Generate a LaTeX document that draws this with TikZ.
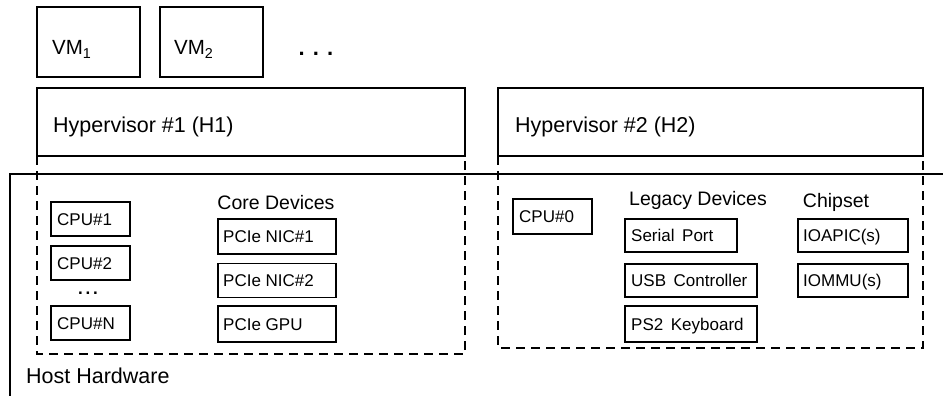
\documentclass[tikz,border=0pt]{standalone}
\usepackage{fontspec}
\setmainfont{Liberation Sans}
\begin{document}
\begin{tikzpicture}[x=1pt,y=-1pt,
  bigbox/.style={draw, line width=1.6pt, inner sep=0pt, outer sep=0pt},
  devbox/.style={draw, line width=1.2pt, inner sep=0pt, outer sep=0pt, minimum width=#1},
  devbox/.default=79pt,
  biglabel/.style={font=\fontsize{21.5}{24}\selectfont, inner sep=0pt, anchor=base west},
  vmlabel/.style={font=\fontsize{20.5}{24}\selectfont, inner sep=0pt, anchor=base west},
  hdrlabel/.style={font=\fontsize{19.5}{22}\selectfont, inner sep=0pt, anchor=base},
  devlabel/.style={font=\fontsize{17}{19}\selectfont, inner sep=0pt, anchor=base west},
  region/.style={line width=1.8pt, dash pattern=on 9pt off 6pt},
  hostline/.style={line width=1.6pt}]
\useasboundingbox (0,0) rectangle (943,396);
% VMs
\node[bigbox, minimum width=103pt, minimum height=70pt] (vm1) at (88.5,42) {};
\node[vmlabel] (vm1t) at (52,55) {VM\textsubscript{1}};
\node[bigbox, minimum width=103pt, minimum height=70pt] (vm2) at (211.5,42) {};
\node[vmlabel] (vm2t) at (174,55) {VM\textsubscript{2}};
\node[hdrlabel, font=\fontsize{22}{24}\selectfont\bfseries] (vmdots) at (316,56) {. . .};
% Hypervisors
\node[bigbox, minimum width=428pt, minimum height=68pt] (h1) at (251,122) {};
\node[biglabel] (h1t) at (53,132) {Hypervisor \#1 (H1)};
\node[bigbox, minimum width=425pt, minimum height=68pt] (h2) at (710.5,122) {};
\node[biglabel] (h2t) at (515,132) {Hypervisor \#2 (H2)};
% host hardware line
\coordinate (hr) at (943,174);
\coordinate (hl) at (10,174);
\coordinate (hb) at (10,396);
\draw[hostline] (hr) -- (hl) -- (hb);
\node[biglabel] (hostt) at (26,383) {Host Hardware};
% dashed regions
\draw[region] (h1.south west) -- (h1.south west |- 0,354) -- (h1.south east |- 0,354) -- (h1.south east);
\draw[region] (h2.south west) -- (h2.south west |- 0,348) -- (h2.south east |- 0,348) -- (h2.south east);
% H1 devices
\node[devbox, minimum height=34pt] (cpu1) at (90.5,219) {};
\node[devlabel] at (57,225) {CPU\#1};
\node[devbox, minimum height=34pt] (cpu2) at (90.5,263) {};
\node[devlabel] at (57,269) {CPU\#2};
\node[hdrlabel, font=\fontsize{17}{19}\selectfont\bfseries] (cpudots) at (88,294) {.\,.\,.};
\node[devbox, minimum height=34pt] (cpun) at (90.5,323) {};
\node[devlabel] at (57,329) {CPU\#N};
\node[hdrlabel] (coret) at (276,209) {Core Devices};
\node[devbox=118pt, minimum height=35pt] (nic1) at (277,236.5) {};
\node[devlabel] at (223,242.5) {PCIe NIC\#1};
\node[devbox=118pt, minimum height=34pt] (nic2) at (277,280.5) {};
\node[devlabel] at (223,286.5) {PCIe NIC\#2};
\node[devbox=118pt, minimum height=36pt] (gpu) at (277,324) {};
\node[devlabel] at (223,330) {PCIe GPU};
% H2 devices
\node[devbox, minimum height=35pt] (cpu0) at (552.5,216.5) {};
\node[devlabel] at (519,222.5) {CPU\#0};
\node[hdrlabel] (legt) at (698,205) {Legacy Devices};
\node[devbox=112pt, minimum height=33pt] (serial) at (681,235.5) {};
\node[devlabel] at (631,241.5) {Serial\, Port};
\node[devbox=132pt, minimum height=33pt] (usb) at (691,280.5) {};
\node[devlabel] at (631,286.5) {USB\, Controller};
\node[devbox=132pt, minimum height=36pt] (ps2) at (691,324) {};
\node[devlabel] at (631,330) {PS2\, Keyboard};
\node[hdrlabel] (chipt) at (836,207) {Chipset};
\node[devbox=110pt, minimum height=33pt] (ioapic) at (853,235.5) {};
\node[devlabel] at (803,241.5) {IOAPIC(s)};
\node[devbox=110pt, minimum height=33pt] (iommu) at (853,280.5) {};
\node[devlabel] at (803,286.5) {IOMMU(s)};
\end{tikzpicture}
\end{document}
